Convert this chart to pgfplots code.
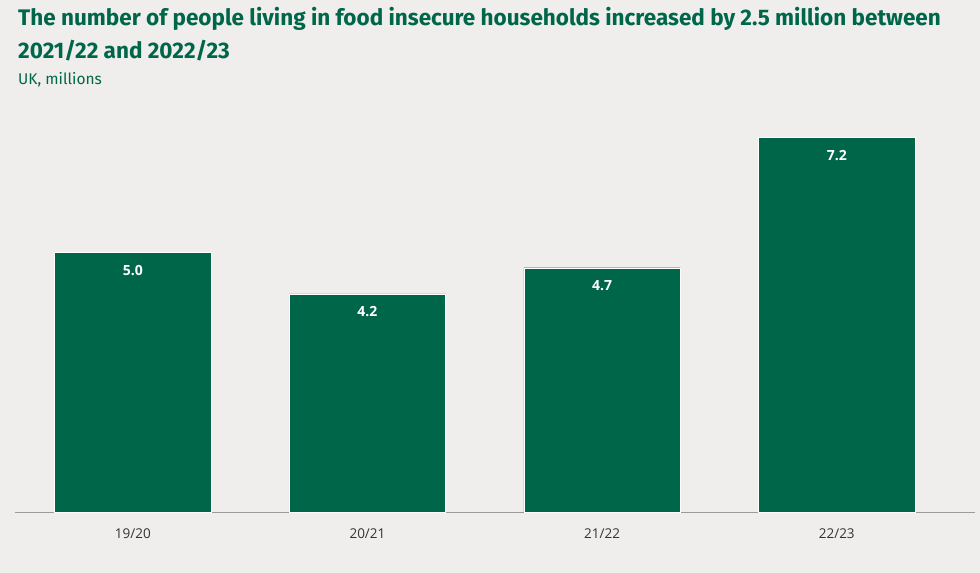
\documentclass[border=0pt]{standalone}
\usepackage{pgfplots}
\pgfplotsset{compat=1.18}
\usepackage{fontspec}
\setmainfont{Open Sans}
\newfontfamily\titlefont{Fira Sans}
\definecolor{bg}{HTML}{EFEEEC}
\definecolor{fgreen}{HTML}{00664A}
\definecolor{axisgrey}{HTML}{9A9A9A}
\definecolor{ticktext}{HTML}{333333}

\begin{document}
\begin{tikzpicture}
\useasboundingbox (0,0) rectangle (980pt,573pt);
\fill[bg] (0,0) rectangle (980pt,573pt);

% title and subtitle
\node[anchor=base west, inner sep=0, text=fgreen, font=\titlefont\bfseries\fontsize{22.5}{26}\selectfont]
  at (18pt,547pt) {The number of people living in food insecure households increased by 2.5 million between};
\node[anchor=base west, inner sep=0, text=fgreen, font=\titlefont\bfseries\fontsize{22.5}{26}\selectfont]
  at (18pt,514pt) {2021/22 and 2022/23};
\node[anchor=base west, inner sep=0, text=fgreen, font=\titlefont\fontsize{15.5}{18}\selectfont]
  at (18pt,488pt) {UK, millions};

\begin{axis}[
  at={(132.8pt,60.5pt)}, anchor=origin,
  scale only axis,
  width=960pt, height=401pt,
  xmin=-0.503, xmax=3.588,
  ymin=0, ymax=7.7,
  axis y line=none,
  axis x line*=bottom,
  x axis line style={axisgrey, line width=0.8pt, -},
  xtick={0,1,2,3},
  xticklabels={19/20,20/21,21/22,22/23},
  major tick length=0pt,
  xticklabel style={anchor=base, yshift=-25.5pt, text=ticktext, font=\fontsize{13.5}{16}\selectfont},
  /pgf/number format/assume math mode=true,
  ybar, bar width=0.666, bar shift=0pt,
  nodes near coords={\pgfmathprintnumber[fixed,fixed zerofill,precision=1]{\pgfplotspointmeta}},
  every node near coord/.append style={anchor=base, yshift=-23pt, text=white, font=\bfseries\fontsize{14}{17}\selectfont},
]
\addplot[fill=fgreen, draw=white, line width=0.4pt] coordinates {
  (0,5.0) (1,4.2) (2,4.7) (3,7.2)
};
\end{axis}
\end{tikzpicture}
\end{document}
